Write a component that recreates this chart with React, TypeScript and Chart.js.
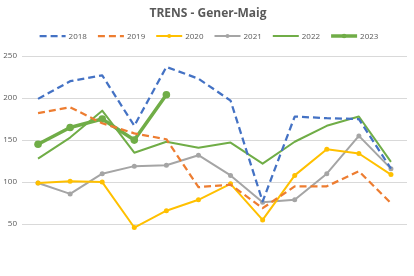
import React, { useEffect, useRef } from "react";
import { Chart, registerables } from "chart.js";

Chart.register(...registerables);

const months = ["Gen", "Feb", "Mar", "Abr", "Mai", "Jun", "Jul", "Ago", "Set", "Oct", "Nov", "Des"];
const y2018 = [199, 220, 227, 167, 237, 223, 197, 77, 178, 176, 175, 116];
const y2019 = [182, 189, 170, 158, 151, 94, 97, 69, 95, 95, 113, 75];
const y2020 = [99, 101, 100, 46, 66, 79, 98, 55, 108, 139, 134, 109];
const y2021 = [99, 86, 110, 119, 120, 132, 108, 76, 79, 110, 155, 116];
const y2022 = [128, 153, 185, 135, 148, 141, 147, 122, 148, 167, 178, 124];
const y2023 = [145, 165, 175, 150, 204];
const yTicks = [0, 50, 100, 150, 200, 250];
const titleText = "TRENS - Gener-Maig";

const FONT = "'Open Sans', 'Liberation Sans', sans-serif";
const TXT = "#595959";

const legendPlugin = {
  id: "customLegendTitle",
  afterDraw(chart: any) {
    const ctx = chart.ctx as CanvasRenderingContext2D;
    ctx.save();
    ctx.fillStyle = TXT;
    ctx.font = `bold 12px ${FONT}`;
    ctx.textAlign = "center";
    ctx.textBaseline = "middle";
    ctx.fillText(titleText, chart.width / 2 + 1, 14);

    ctx.font = `8px ${FONT}`;
    const lineLen = 26;
    const gap1 = 3;
    const gap2 = 11;
    const items = chart.data.datasets.map((ds: any) => ({
      ds,
      tw: ctx.measureText(ds.label).width,
    }));
    const total = items.reduce((s: number, it: any) => s + lineLen + gap1 + it.tw, 0) + gap2 * (items.length - 1);
    let x = chart.width / 2 + 2 - total / 2;
    const y = 36;
    items.forEach((it: any) => {
      const ds = it.ds;
      ctx.save();
      ctx.strokeStyle = ds.borderColor;
      ctx.lineWidth = ds.borderWidth;
      ctx.setLineDash(ds.borderDash || []);
      ctx.lineCap = "butt";
      ctx.beginPath();
      ctx.moveTo(x, y);
      ctx.lineTo(x + lineLen, y);
      ctx.stroke();
      ctx.setLineDash([]);
      if (ds.pointRadius > 0) {
        ctx.fillStyle = ds.borderColor;
        ctx.beginPath();
        ctx.arc(x + lineLen / 2, y, Math.max(2, ds.pointRadius - 1.5), 0, Math.PI * 2);
        ctx.fill();
      }
      ctx.restore();
      ctx.fillStyle = TXT;
      ctx.textAlign = "left";
      ctx.textBaseline = "middle";
      ctx.fillText(ds.label, x + lineLen + gap1, y + 0.5);
      x += lineLen + gap1 + it.tw + gap2;
    });
    ctx.restore();
  },
};

export default function App() {
  const ref = useRef<HTMLCanvasElement>(null);
  useEffect(() => {
    document.body.style.margin = "0";
    const canvas = ref.current!;
    const base = {
      tension: 0,
      fill: false,
      borderJoinStyle: "round" as const,
      pointBorderWidth: 0,
    };
    const chart = new Chart(canvas, {
      type: "line",
      data: {
        labels: months,
        datasets: [
          { ...base, label: "2018", data: y2018, borderColor: "#4472C4", backgroundColor: "#4472C4", borderWidth: 2.25, borderDash: [7, 4], pointRadius: 0 },
          { ...base, label: "2019", data: y2019, borderColor: "#ED7D31", backgroundColor: "#ED7D31", borderWidth: 2.25, borderDash: [7, 4], pointRadius: 0 },
          { ...base, label: "2020", data: y2020, borderColor: "#FFC000", backgroundColor: "#FFC000", borderWidth: 2, pointRadius: 2.5 },
          { ...base, label: "2021", data: y2021, borderColor: "#A5A5A5", backgroundColor: "#A5A5A5", borderWidth: 2, pointRadius: 2.5 },
          { ...base, label: "2022", data: y2022, borderColor: "#70AD47", backgroundColor: "#70AD47", borderWidth: 2, pointRadius: 0 },
          { ...base, label: "2023", data: y2023, borderColor: "#70AD47", backgroundColor: "#70AD47", borderWidth: 3.5, pointRadius: 3.8 },
        ],
      },
      options: {
        animation: false,
        responsive: false,
        maintainAspectRatio: false,
        layout: { padding: { top: 56, right: 7, left: 0, bottom: 0 } },
        plugins: {
          legend: { display: false },
          title: { display: false },
          tooltip: { enabled: false },
        },
        scales: {
          x: {
            display: false,
            offset: true,
            grid: { display: false },
          },
          y: {
            min: 0,
            max: 250,
            afterFit: (s: any) => {
              s.width = 22;
            },
            afterBuildTicks: (s: any) => {
              s.ticks = yTicks.map((v) => ({ value: v }));
            },
            border: { display: false },
            grid: {
              color: (c: any) => (c.tick && c.tick.value === 0 ? "rgba(0,0,0,0)" : "#D9D9D9"),
              lineWidth: 1,
              drawTicks: false,
            },
            ticks: {
              padding: 5,
              color: TXT,
              font: { family: FONT, size: 8 },
              callback: (v: any) => (v === 0 ? "" : String(v)),
            },
          },
        },
      },
      plugins: [legendPlugin],
    });
    return () => chart.destroy();
  }, []);
  return <canvas ref={ref} width={414} height={276} style={{ display: "block", width: 414, height: 276 }} />;
}
